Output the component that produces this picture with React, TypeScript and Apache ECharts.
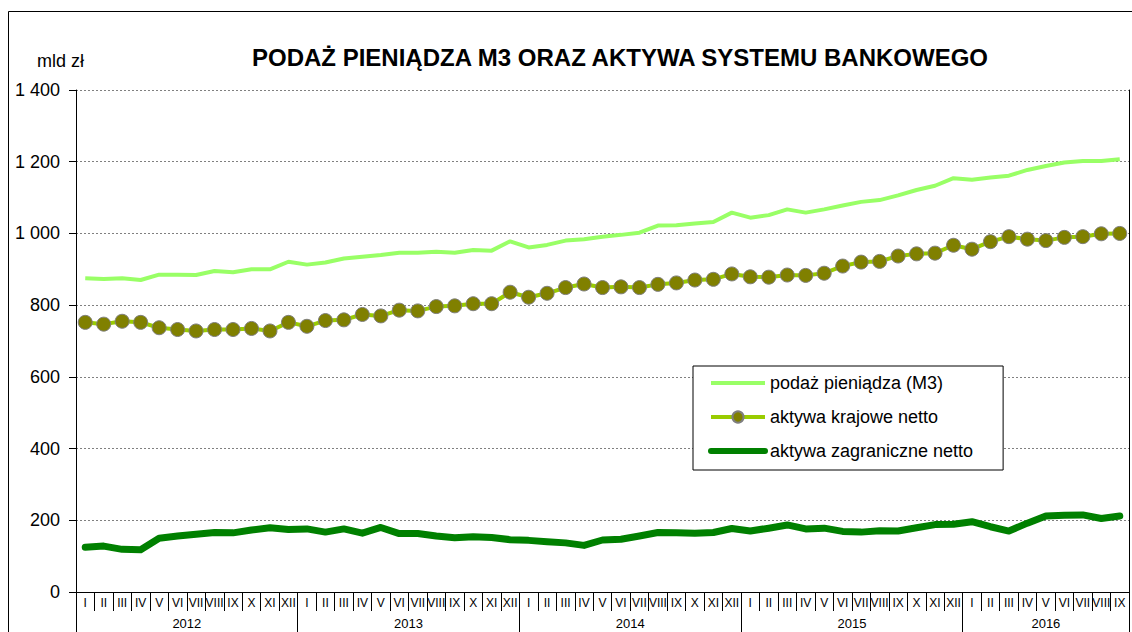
import React, { useEffect, useRef } from "react";
import * as echarts from "echarts";

const FONT = 'Arial, "Liberation Sans", sans-serif';

const romanMonths = ["I", "II", "III", "IV", "V", "VI", "VII", "VIII", "IX", "X", "XI", "XII"];
const years = ["2012", "2013", "2014", "2015", "2016"];
const monthsInLastYear = 9;

const m3 = [
  875, 873, 875, 870, 885, 885, 884, 895, 892, 900, 900, 921,
  913, 919, 930, 935, 940, 946, 946, 949, 946, 954, 952, 978,
  961, 968, 980, 984, 991, 996, 1002, 1022, 1023, 1028, 1032, 1058,
  1044, 1051, 1067, 1058, 1067, 1078, 1088, 1093, 1106, 1121, 1133, 1154,
  1150, 1156, 1161, 1177, 1188, 1198, 1202, 1202, 1207,
];

const krajowe = [
  752, 747, 755, 752, 737, 732, 728, 732, 732, 735, 728, 752,
  741, 757, 759, 774, 770, 786, 784, 796, 798, 804, 804, 836,
  822, 833, 849, 859, 849, 851, 849, 858, 862, 870, 872, 887,
  879, 878, 884, 883, 889, 909, 920, 922, 937, 943, 945, 967,
  956, 977, 991, 984, 980, 989, 991, 999, 1000,
];

const zagraniczne = [
  125, 128, 119, 118, 150, 156, 161, 166, 165, 173, 179, 174,
  176, 167, 176, 164, 180, 163, 163, 156, 151, 154, 152, 146,
  144, 140, 137, 130, 145, 147, 156, 166, 165, 164, 166, 177,
  170, 178, 187, 176, 178, 169, 167, 171, 170, 179, 188, 189,
  196, 182, 170, 192, 212, 214, 215, 205, 212,
];

const seriesNames = ["podaż pieniądza (M3)", "aktywa krajowe netto", "aktywa zagraniczne netto"];

const Y_MIN = 0;
const Y_MAX = 1400;
const Y_STEP = 200;

function buildMonths(): string[] {
  const out: string[] = [];
  years.forEach((y, yi) => {
    const n = yi === years.length - 1 ? monthsInLastYear : 12;
    for (let m = 0; m < n; m++) out.push(romanMonths[m]);
  });
  return out;
}

function yearCenters(): Record<number, string> {
  const map: Record<number, string> = {};
  let start = 0;
  years.forEach((y, yi) => {
    const n = yi === years.length - 1 ? monthsInLastYear : 12;
    map[Math.round((start + n / 2) * 2)] = y;
    start += n;
  });
  return map;
}

function fmtThousands(v: number): string {
  return String(v).replace(/\B(?=(\d{3})+(?!\d))/g, " ");
}

export default function App() {
  const ref = useRef<HTMLDivElement>(null);

  useEffect(() => {
    if (!ref.current) return;
    const chart = echarts.init(ref.current, undefined, { renderer: "svg" });
    const months = buildMonths();
    const total = months.length;
    const centers = yearCenters();
    const hiddenSymbol = { color: "rgba(0,0,0,0)", borderWidth: 0, opacity: 0 };

    const option: any = {
      animation: false,
      backgroundColor: "#ffffff",
      textStyle: { fontFamily: FONT },
      title: {
        text: "PODAŻ PIENIĄDZA M3 ORAZ AKTYWA SYSTEMU BANKOWEGO",
        left: 615,
        top: 40,
        textAlign: "center",
        textStyle: { fontSize: 24, fontWeight: "bold", color: "#000", fontFamily: FONT },
      },
      graphic: [
        {
          type: "rect",
          z: -10,
          silent: true,
          shape: { x: 8.5, y: 11.5, width: 1200, height: 700 },
          style: { fill: "none", stroke: "#000", lineWidth: 1 },
        },
        {
          type: "text",
          left: 37,
          top: 52,
          style: { text: "mld zł", fontSize: 18, fill: "#000", fontFamily: FONT },
        },
      ],
      legend: {
        orient: "vertical",
        left: 693,
        top: 366,
        padding: [8, 30, 10, 15],
        itemWidth: 54,
        itemHeight: 14,
        itemGap: 16,
        borderColor: "#000",
        borderWidth: 1,
        backgroundColor: "#fff",
        textStyle: { fontSize: 18, color: "#000", fontFamily: FONT },
        data: [
          { name: seriesNames[0], itemStyle: hiddenSymbol, lineStyle: { width: 4, color: "#99FF66" } },
          { name: seriesNames[1], lineStyle: { width: 4, color: "#99CC00" } },
          { name: seriesNames[2], itemStyle: hiddenSymbol, lineStyle: { width: 6, color: "#008000", cap: "round" } },
        ],
      },
      grid: { left: 76, right: 3, top: 90, bottom: 40, containLabel: false },
      xAxis: [
        {
          type: "category",
          data: months,
          boundaryGap: true,
          position: "bottom",
          axisLine: { show: true, lineStyle: { color: "#000", width: 1 } },
          axisTick: { show: true, interval: 0, length: 19, lineStyle: { color: "#000" } },
          axisLabel: { interval: 0, fontSize: 12, color: "#000", margin: 5, hideOverlap: false, fontFamily: FONT },
          splitLine: { show: false },
        },
        {
          type: "category",
          data: months,
          boundaryGap: true,
          position: "bottom",
          axisLine: { show: false },
          axisTick: {
            show: true,
            interval: (i: number) => i % 12 === 0,
            length: 45,
            lineStyle: { color: "#000" },
          },
          axisLabel: { show: false },
          splitLine: { show: false },
        },
        {
          type: "value",
          min: 0,
          max: total,
          interval: 1.5,
          position: "bottom",
          axisLine: { show: false },
          axisTick: { show: false },
          splitLine: { show: false },
          axisLabel: {
            show: true,
            margin: 25,
            fontSize: 13,
            color: "#000",
            fontFamily: FONT,
            hideOverlap: false,
            showMinLabel: true,
            showMaxLabel: true,
            formatter: (v: number) => centers[Math.round(v * 2)] || "",
          },
        },
      ],
      yAxis: [
        {
          type: "value",
          min: Y_MIN,
          max: Y_MAX,
          interval: Y_STEP,
          axisLine: { show: true, lineStyle: { color: "#000" } },
          axisTick: { show: true, length: 7, lineStyle: { color: "#000" } },
          axisLabel: { fontSize: 18, color: "#000", margin: 16, fontFamily: FONT, formatter: (v: number) => fmtThousands(v) },
          splitLine: { show: true, lineStyle: { color: "#808080", type: [2, 2], width: 1 } },
        },
        {
          type: "value",
          min: Y_MIN,
          max: Y_MAX,
          interval: Y_STEP,
          position: "right",
          axisLine: { show: true, lineStyle: { color: "#000" } },
          axisTick: { show: false },
          axisLabel: { show: false },
          splitLine: { show: false },
        },
      ],
      series: [
        {
          name: seriesNames[0],
          type: "line",
          data: m3,
          symbol: "none",
          color: "#99FF66",
          lineStyle: { color: "#99FF66", width: 4 },
          z: 2,
        },
        {
          name: seriesNames[1],
          type: "line",
          data: krajowe,
          symbol: "circle",
          symbolSize: 14,
          color: "#808000",
          lineStyle: { color: "#99CC00", width: 4 },
          itemStyle: { color: "#808000", borderColor: "#7f7f7f", borderWidth: 1 },
          z: 4,
        },
        {
          name: seriesNames[2],
          type: "line",
          data: zagraniczne,
          symbol: "none",
          color: "#008000",
          lineStyle: { color: "#008000", width: 7, cap: "round", join: "round" },
          z: 3,
        },
      ],
    };

    chart.setOption(option);
    return () => chart.dispose();
  }, []);

  return (
    <div
      ref={ref}
      style={{ position: "absolute", left: 0, top: 0, width: 1132, height: 632, overflow: "hidden", background: "#fff" }}
    />
  );
}
